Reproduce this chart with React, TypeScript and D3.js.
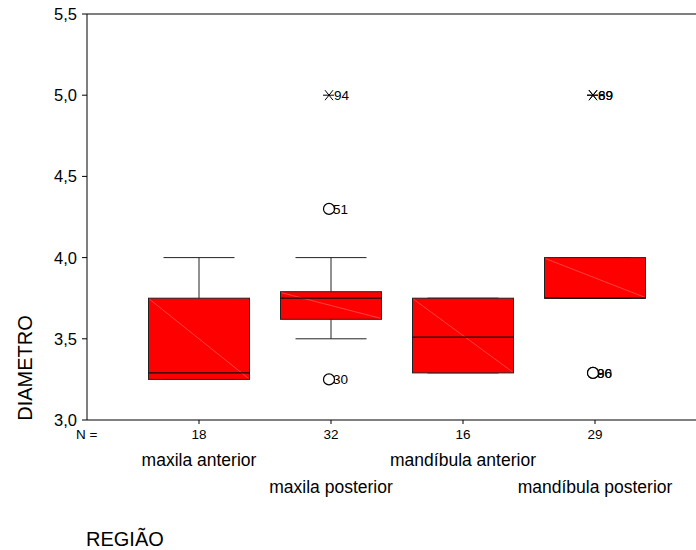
import React from "react";
import * as d3 from "d3";

const categories = ["maxila anterior", "maxila posterior", "mandíbula anterior", "mandíbula posterior"];
const counts = [18, 32, 16, 29];
const whiskerLow = [3.25, 3.5, 3.29, 3.75];
const q1 = [3.25, 3.62, 3.29, 3.75];
const medians = [3.29, 3.75, 3.51, 3.75];
const q3 = [3.75, 3.79, 3.75, 4.0];
const whiskerHigh = [4.0, 4.0, 3.75, 4.0];
// outliers (circle) and extremes (asterisk): [categoryIndex, value, label]
const outliers: [number, number, string][] = [
  [1, 4.3, "51"],
  [1, 3.25, "30"],
  [3, 3.29, "86"],
  [3, 3.29, "90"],
];
const extremes: [number, number, string][] = [
  [1, 5.0, "94"],
  [3, 5.0, "69"],
  [3, 5.0, "89"],
];
const yTicks = [3.0, 3.5, 4.0, 4.5, 5.0, 5.5];

const W = 696;
const H = 550;
const left = 87;
const top = 14;
const bottom = 420;

export default function App() {
  const y = d3.scaleLinear().domain([3.0, 5.5]).range([bottom, top]);
  const x = d3.scaleBand<string>().domain(categories).range([133, 661]).padding(0);
  const cx = (i: number) => (x(categories[i]) as number) + x.bandwidth() / 2;
  const boxW = 101;
  const capW = 71;
  const font = "'Liberation Sans', Arial, sans-serif";
  const fmt = (v: number) => v.toFixed(1).replace(".", ",");

  return (
    <svg width={W} height={H} style={{ position: "absolute", left: 0, top: 0, background: "#fff" }} fontFamily={font}>
      <rect x={0} y={0} width={W} height={H} fill="#fff" />
      {/* frame */}
      <line x1={left} x2={W} y1={top} y2={top} stroke="#000" strokeWidth={1} />
      <line x1={left} x2={left} y1={top} y2={bottom} stroke="#000" strokeWidth={1} />
      <line x1={left} x2={W} y1={bottom} y2={bottom} stroke="#000" strokeWidth={1} />
      {/* y ticks */}
      {yTicks.map((t) => (
        <g key={t}>
          <line x1={left - 5} x2={left} y1={y(t)} y2={y(t)} stroke="#000" />
          <text x={77} y={y(t) + 6} fontSize={16.5} textAnchor="end" fill="#000">
            {fmt(t)}
          </text>
        </g>
      ))}
      {/* boxes */}
      {categories.map((c, i) => {
        const xc = cx(i);
        const x0 = xc - boxW / 2;
        const x1 = xc + boxW / 2;
        return (
          <g key={c}>
            <line x1={xc} x2={xc} y1={y(whiskerHigh[i])} y2={y(q3[i])} stroke="#222" />
            <line x1={xc} x2={xc} y1={y(q1[i])} y2={y(whiskerLow[i])} stroke="#222" />
            <line x1={xc - capW / 2} x2={xc + capW / 2} y1={y(whiskerHigh[i])} y2={y(whiskerHigh[i])} stroke="#222" />
            <line x1={xc - capW / 2} x2={xc + capW / 2} y1={y(whiskerLow[i])} y2={y(whiskerLow[i])} stroke="#222" />
            <rect x={x0} y={y(q3[i])} width={boxW} height={y(q1[i]) - y(q3[i])} fill="#ff0000" stroke="#222" strokeWidth={1} />
            <line x1={x0 + 1} y1={y(q3[i]) + 1} x2={x1 - 1} y2={y(q1[i]) - 1} stroke="#ff8080" strokeWidth={0.5} />
            <line x1={x0} x2={x1} y1={y(medians[i])} y2={y(medians[i])} stroke="#111" strokeWidth={1.2} />
            {/* x tick and counts */}
            <line x1={xc} x2={xc} y1={bottom} y2={bottom + 4} stroke="#000" />
            <text x={xc} y={439} fontSize={13.5} textAnchor="middle" fill="#000">
              {counts[i]}
            </text>
            <text x={xc} y={i % 2 === 0 ? 466 : 493} fontSize={17.5} textAnchor="middle" fill="#000">
              {c}
            </text>
          </g>
        );
      })}
      {/* outliers */}
      {outliers.map(([i, v, lab], k) => (
        <g key={"o" + k}>
          <circle cx={cx(i) - 2} cy={y(v)} r={5.5} fill="#fff" stroke="#000" strokeWidth={1.2} />
          <text x={cx(i) + 2} y={y(v) + 5} fontSize={13.5} fill="#000">
            {lab}
          </text>
        </g>
      ))}
      {extremes.map(([i, v, lab], k) => {
        const xc = cx(i) - 2;
        const yc = y(v);
        return (
          <g key={"e" + k}>
            <line x1={xc - 6} x2={xc + 5} y1={yc} y2={yc} stroke="#000" />
            <line x1={xc - 4} x2={xc + 4} y1={yc - 5} y2={yc + 5} stroke="#000" />
            <line x1={xc - 4} x2={xc + 4} y1={yc + 5} y2={yc - 5} stroke="#000" />
            <text x={xc + 5} y={yc + 5} fontSize={13.5} fill="#000">
              {lab}
            </text>
          </g>
        );
      })}
      <text x={76} y={439} fontSize={13.5} textAnchor="start" fill="#000">
        N =
      </text>
      <text x={86} y={546} fontSize={20} fill="#000">
        REGIÃO
      </text>
      <text transform={`translate(${32},${368}) rotate(-90)`} fontSize={20} textAnchor="middle" fill="#000">
        DIAMETRO
      </text>
    </svg>
  );
}
